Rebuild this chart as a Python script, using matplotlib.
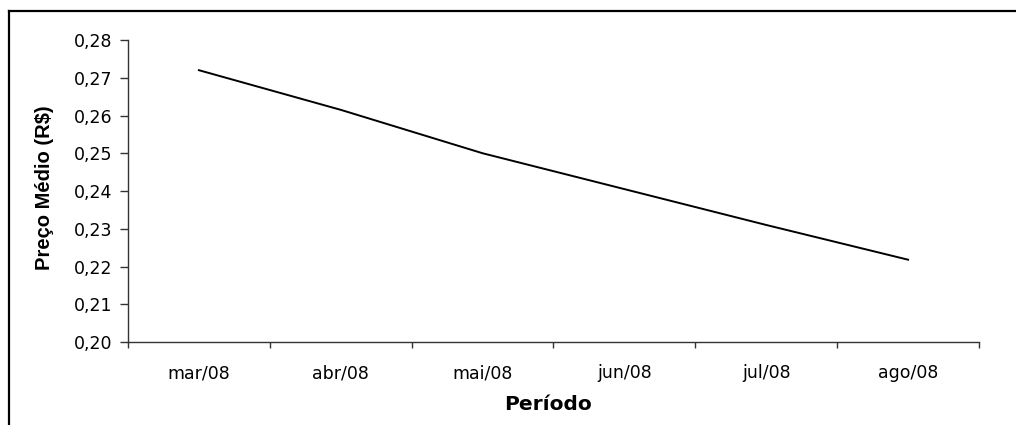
import matplotlib
matplotlib.use("Agg")
import matplotlib.pyplot as plt
from matplotlib.lines import Line2D
from matplotlib.ticker import FuncFormatter

categories = ["mar/08", "abr/08", "mai/08", "jun/08", "jul/08", "ago/08"]
prices = [0.272, 0.2615, 0.250, 0.2405, 0.231, 0.2218]
yticks = [0.20, 0.21, 0.22, 0.23, 0.24, 0.25, 0.26, 0.27, 0.28]

plt.rcParams['font.family'] = ['DejaVu Sans']

W, H = 1016, 425
fig = plt.figure(figsize=(W / 100, H / 100), dpi=100)
ax = fig.add_axes([128 / W, 1 - 342 / H, (979 - 128) / W, (342 - 40) / H])

x = list(range(len(categories)))
ax.plot(x, prices, color='black', linewidth=1.4)

ax.set_xlim(-0.5, len(categories) - 0.5)
ax.set_ylim(0.20, 0.28)
ax.set_yticks(yticks)
ax.yaxis.set_major_formatter(FuncFormatter(lambda v, p: f"{v:.2f}".replace('.', ',')))
ax.set_xticks([i - 0.5 for i in range(len(categories) + 1)])
ax.set_xticklabels([])
ax.set_xticks(x, minor=True)
ax.set_xticklabels(categories, minor=True)
ax.tick_params(axis='x', which='minor', length=0, pad=16, labelsize=12.5)
ax.tick_params(axis='x', which='major', length=4.5, width=1, color='#333333', direction='out')
ax.tick_params(axis='y', length=6, width=1, color='#333333', direction='out', labelsize=12.5, pad=5.5)

for s in ['top', 'right']:
    ax.spines[s].set_visible(False)
for s in ['left', 'bottom']:
    ax.spines[s].set_color('#333333')
    ax.spines[s].set_linewidth(1)

ax.set_ylabel("Preço Médio (R$)", fontsize=14.5, fontweight='bold',
              family=['Liberation Sans', 'DejaVu Sans'])
ax.yaxis.label.set_va('center')
ax.yaxis.set_label_coords((45 - 128) / 851, 0.51)

ax.set_xlabel("Período", fontsize=14.5, fontweight='bold')
ax.xaxis.label.set_va('center')
ax.xaxis.set_label_coords((548 - 128) / 851, (342 - 404) / 302)

# outer chart border (left and top visible)
fig.add_artist(Line2D([9 / W, 9 / W], [0, 1 - 11 / H], transform=fig.transFigure, color='black', linewidth=1.6))
fig.add_artist(Line2D([9 / W, 1], [1 - 11 / H, 1 - 11 / H], transform=fig.transFigure, color='black', linewidth=1.6))

fig.savefig("out.png", dpi=100)
